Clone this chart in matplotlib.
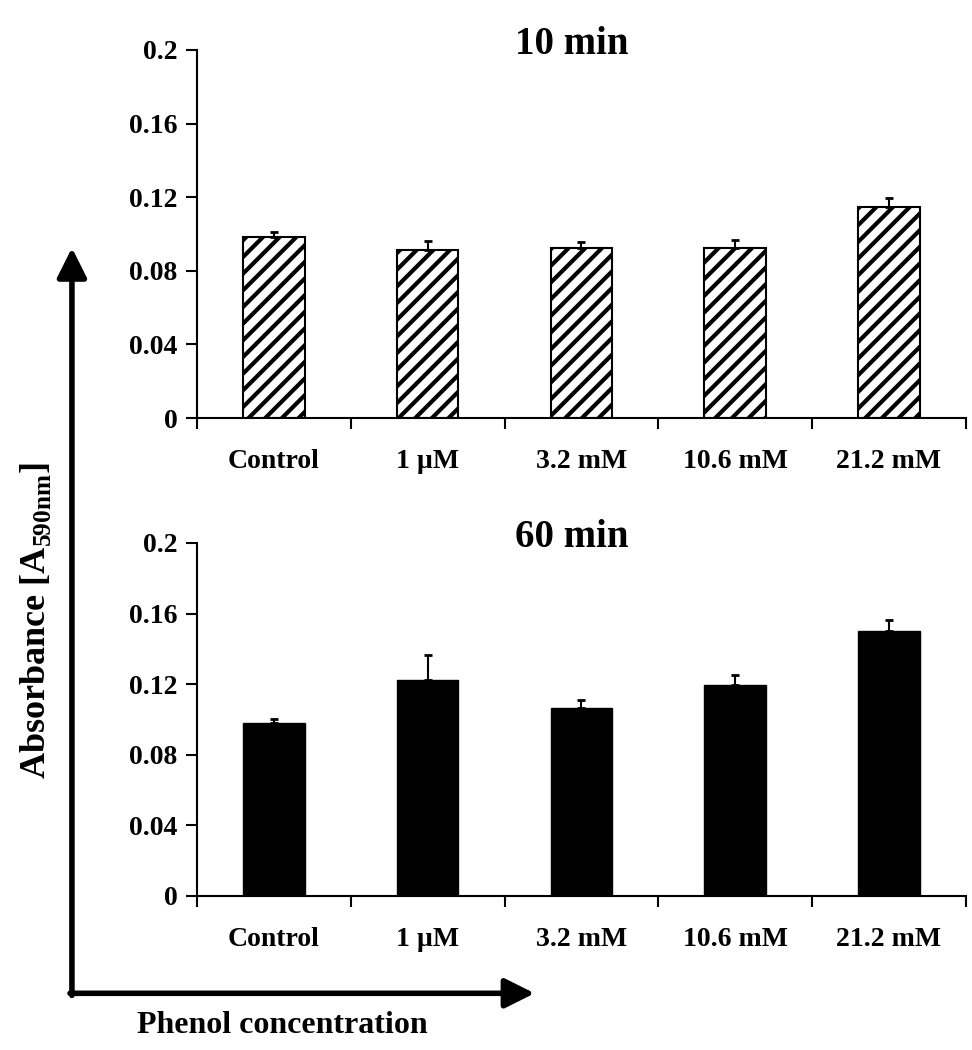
import matplotlib
matplotlib.use("Agg")
import matplotlib.pyplot as plt
import numpy as np

plt.rcParams["font.family"] = ["Liberation Serif", "DejaVu Serif"]
plt.rcParams["font.weight"] = "bold"
plt.rcParams["mathtext.fontset"] = "custom"
plt.rcParams["mathtext.rm"] = "Liberation Serif:bold"
plt.rcParams["hatch.linewidth"] = 3.0

# data
categories = ["Control", "1 \u00b5M", "3.2 mM", "10.6 mM", "21.2 mM"]
abs_10min = [0.0986, 0.0915, 0.0923, 0.0923, 0.1147]
err_10min = [0.0025, 0.0049, 0.0034, 0.0043, 0.0051]
abs_60min = [0.0981, 0.1221, 0.1064, 0.1198, 0.1504]
err_60min = [0.0023, 0.0142, 0.0047, 0.0055, 0.0061]
yticks = [0, 0.04, 0.08, 0.12, 0.16, 0.2]
ytick_labels = ["0", "0.04", "0.08", "0.12", "0.16", "0.2"]

fig = plt.figure(figsize=(9.72, 10.5), dpi=100)
ax1 = fig.add_axes([0.2027, 0.6019, 0.791, 0.3505])
ax2 = fig.add_axes([0.2027, 0.1467, 0.791, 0.3362])


def draw_panel(ax, vals, errs, title, hatched):
    x = np.arange(len(vals))
    lower = np.zeros(len(errs))
    if hatched:
        ax.bar(x, vals, width=0.4, color="white", edgecolor="black",
               hatch="//", linewidth=1.5, zorder=2)
    else:
        ax.bar(x, vals, width=0.4, color="black", edgecolor="black", zorder=2)
    ax.errorbar(x, vals, yerr=[lower, errs], fmt="none", ecolor="black",
                elinewidth=1.5, capsize=3, capthick=2, zorder=3)
    ax.set_xlim(-0.5, len(vals) - 0.5)
    ax.set_ylim(0, 0.2)
    ax.set_yticks(yticks)
    ax.set_yticklabels(ytick_labels)
    # Excel-style ticks between categories, labels in the middle
    ax.set_xticks(np.arange(len(vals) + 1) - 0.5)
    ax.set_xticklabels([])
    ax.set_xticks(x, minor=True)
    ax.set_xticklabels(categories, minor=True)
    ax.tick_params(axis="x", which="major", direction="out", length=8, width=1.5)
    ax.tick_params(axis="x", which="minor", length=0, pad=22, labelsize=20)
    ax.tick_params(axis="y", direction="out", length=8, width=1.5, labelsize=20, pad=6)
    for side in ["top", "right"]:
        ax.spines[side].set_visible(False)
    for side in ["left", "bottom"]:
        ax.spines[side].set_linewidth(1.5)
    ax.set_title(title, fontsize=28, fontweight="bold", x=0.488, y=1.0, pad=-3)


draw_panel(ax1, abs_10min, err_10min, "10 min", True)
draw_panel(ax2, abs_60min, err_60min, "60 min", False)

# big axis arrows drawn in figure coordinates
arrow_style = dict(arrowstyle="-|>,head_length=1.0,head_width=0.5",
                   lw=4, color="black", shrinkA=0, shrinkB=0)
fig.patches.append(matplotlib.patches.FancyArrowPatch(
    (0.074, 0.052), (0.074, 0.764), transform=fig.transFigure,
    mutation_scale=18, **arrow_style))
fig.patches.append(matplotlib.patches.FancyArrowPatch(
    (0.072, 0.054), (0.55, 0.054), transform=fig.transFigure,
    mutation_scale=18, **arrow_style))

fig.text(0.037, 0.409, r"Absorbance [A$_{\mathregular{590nm}}$]", rotation=90,
         fontsize=26, fontweight="bold", ha="center", va="center")
fig.text(0.29, 0.023, "Phenol concentration", fontsize=23,
         fontweight="bold", ha="center", va="center")

fig.savefig("out.png", dpi=100)
